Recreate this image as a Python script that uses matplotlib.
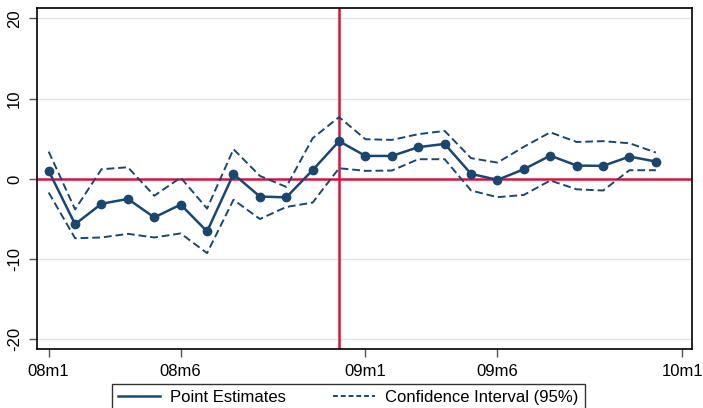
import numpy as np
import matplotlib.pyplot as plt
from matplotlib.lines import Line2D

plt.rcParams['font.family'] = ['Liberation Sans', 'DejaVu Sans']

# monthly index 0 = 2008m1 ... 23 = 2009m12
months = np.arange(24)
point = [1.0, -5.65, -3.1, -2.5, -4.8, -3.2, -6.55, 0.6, -2.2, -2.3, 1.1, 4.7,
         2.86, 2.86, 3.95, 4.36, 0.62, -0.12, 1.2, 2.9, 1.66, 1.62, 2.78, 2.16]
upper = [3.4, -3.8, 1.2, 1.45, -2.1, 0.16, -3.7, 3.7, 0.37, -1.0, 5.07, 7.7,
         4.94, 4.86, 5.57, 5.98, 2.58, 2.03, 4.0, 5.8, 4.6, 4.7, 4.44, 3.28]
lower = [-1.7, -7.4, -7.3, -6.85, -7.3, -6.8, -9.25, -2.6, -5.0, -3.5, -2.95, 1.33,
         1.0, 1.04, 2.45, 2.45, -1.45, -2.28, -2.0, -0.2, -1.3, -1.45, 1.08, 1.08]

tick_pos = [0, 5, 12, 17, 24]
tick_lab = ["08m1", "08m6", "09m1", "09m6", "10m1"]
yticks = [-20, -10, 0, 10, 20]
event_month = 11  # 08m12

navy = '#1a476f'
red = '#d5153c'

fig = plt.figure(figsize=(7.03, 4.08), dpi=100)
ax = fig.add_axes([0.0531, 0.1446, 0.9317, 0.8351])

# light grid, red zero/event lines on top
for yv in yticks:
    if yv != 0:
        ax.axhline(yv, color='#e4e4e4', linewidth=1.0, zorder=0)
ax.axhline(0, color=red, linewidth=1.8, zorder=1)
ax.axvline(event_month, color=red, linewidth=1.8, zorder=1)

ax.plot(months, upper, color=navy, linewidth=1.4, dashes=(4, 2), zorder=2)
ax.plot(months, lower, color=navy, linewidth=1.4, dashes=(4, 2), zorder=2)
ax.plot(months, point, color=navy, linewidth=1.8, marker='o', markersize=6, zorder=3)

ax.set_xlim(-0.43, 24.38)
ax.set_ylim(-21.2, 21.26)
ax.set_xticks(tick_pos)
ax.set_xticklabels(tick_lab)
ax.set_yticks(yticks)
ax.set_yticklabels([str(v) for v in yticks], rotation=90, va='center')
ax.tick_params(axis='both', length=6, width=1, color='#555555', labelsize=12, pad=5)
for sp in ax.spines.values():
    sp.set_linewidth(1.2)
    sp.set_color('black')

handles = [Line2D([], [], color=navy, linewidth=1.8),
           Line2D([], [], color=navy, linewidth=1.4, dashes=(2.5, 1.5))]
leg = fig.legend(handles, ["Point Estimates", "Confidence Interval (95%)"],
                 loc='upper left', bbox_to_anchor=(112 / 703, 1 - 384 / 408),
                 ncol=2, frameon=True, fancybox=False, edgecolor='black',
                 fontsize=12, handlelength=2.5, handletextpad=0.65,
                 columnspacing=2.8, borderpad=0.35, borderaxespad=0)
leg.get_frame().set_linewidth(1.0)

fig.savefig("out.png", dpi=100)
